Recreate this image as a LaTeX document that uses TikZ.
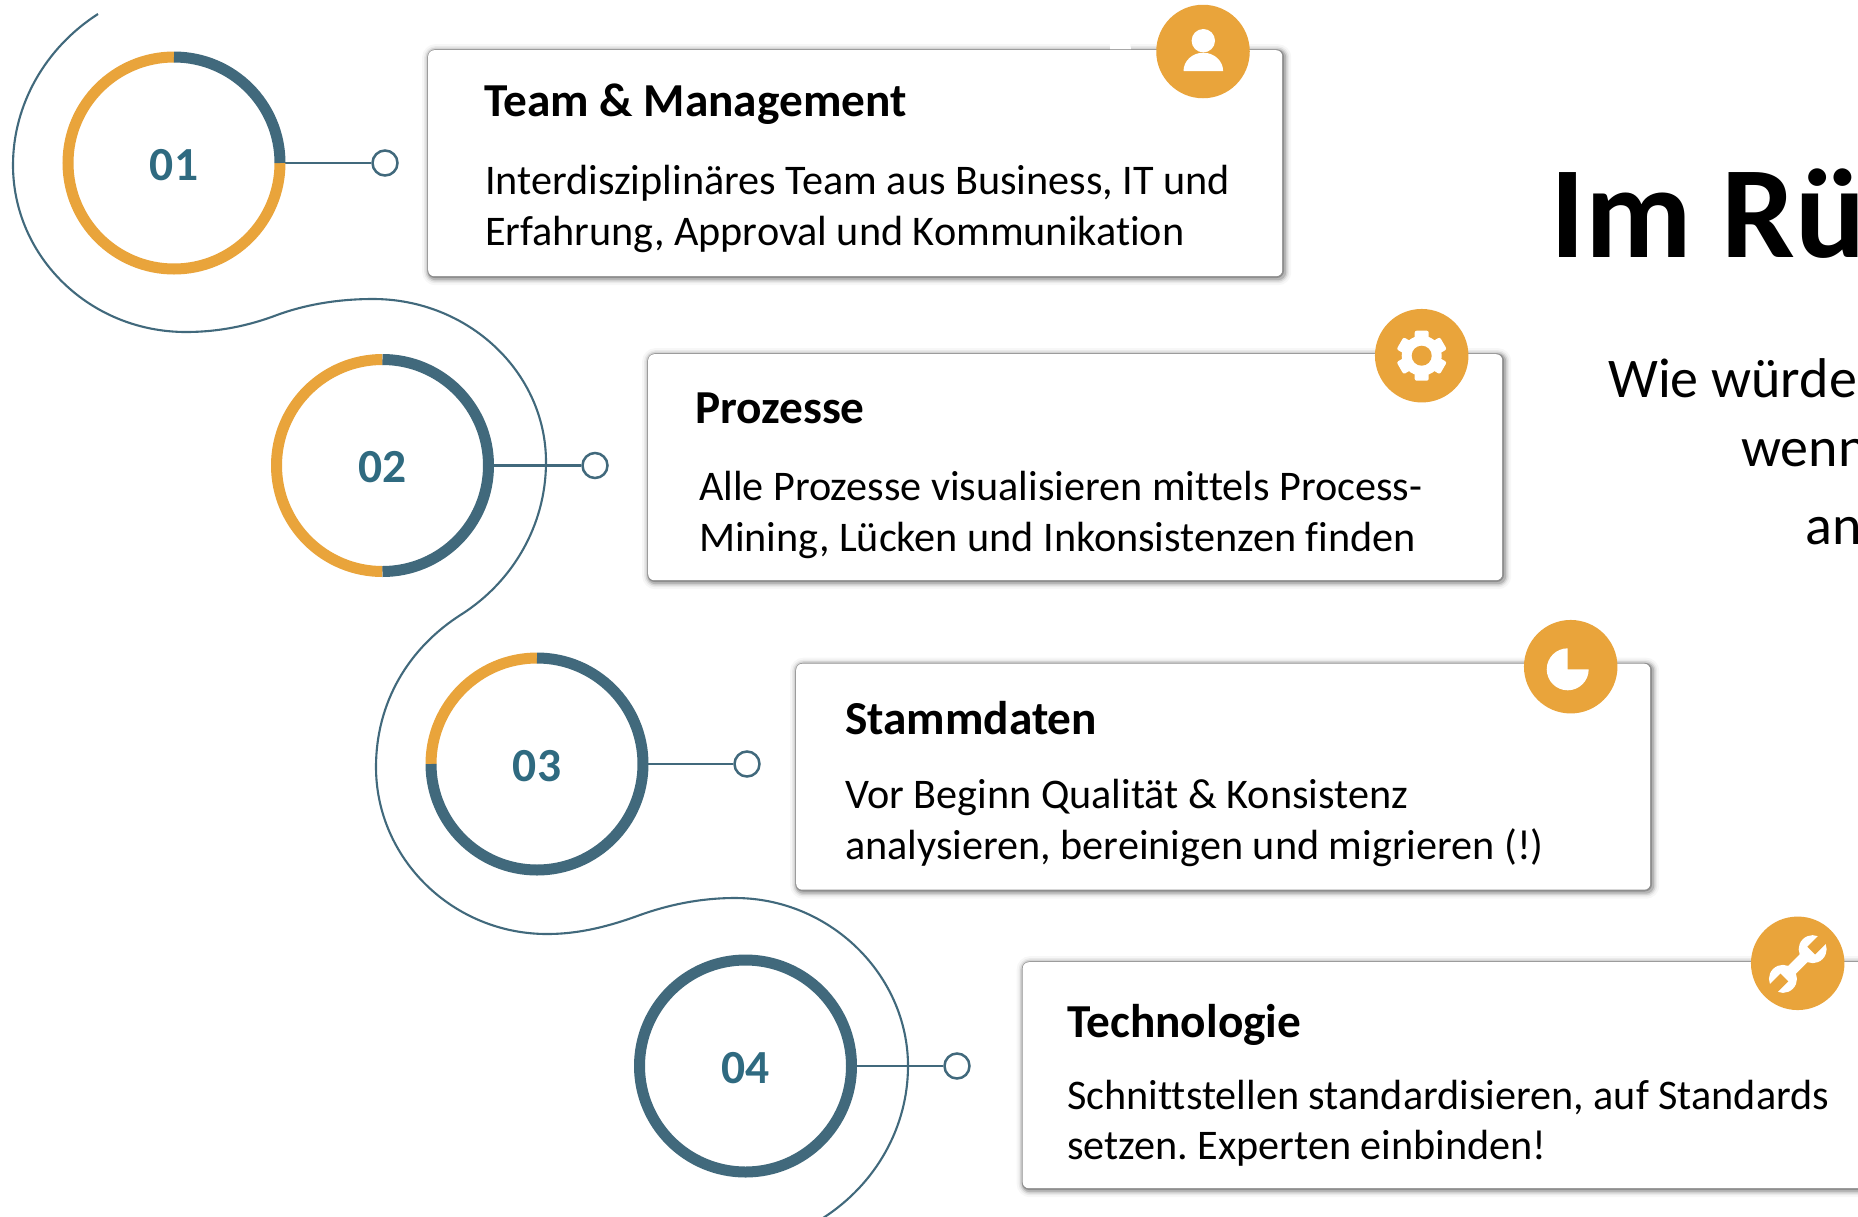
\documentclass[tikz,border=0pt]{standalone}
\usepackage{fontspec}
\setmainfont{Carlito}[Ligatures=NoCommon]
\definecolor{teal}{HTML}{41697C}
\definecolor{numteal}{HTML}{2F6A80}
\definecolor{amber}{HTML}{E9A43B}
\newcommand{\ringnum}[1]{\raisebox{-17pt}[0pt][0pt]{#1}}
\begin{document}
\frenchspacing
\begin{tikzpicture}[x=1pt,y=-1pt,
  wave/.style={draw=teal,line width=2.1pt},
  ringnode/.style={circle,minimum size=222pt,inner sep=0pt,text=numteal,font=\bfseries\fontsize{47.5}{50}\selectfont},
  seg/.style={line width=11pt},
  dotnode/.style={circle,draw=teal,line width=2.5pt,fill=white,minimum size=25pt,inner sep=0pt},
  link/.style={draw=teal,line width=2.8pt},
  card/.style={rectangle,rounded corners=6pt,fill=white,anchor=north west,minimum width=854pt,minimum height=226pt,inner sep=0pt,
    preaction={draw=black,draw opacity=.03,line width=15pt,transform canvas={shift={(1.5pt,-1.5pt)}}},
    preaction={draw=black,draw opacity=.05,line width=11pt,transform canvas={shift={(1.5pt,-1.5pt)}}},
    preaction={draw=black,draw opacity=.09,line width=8pt,transform canvas={shift={(1.5pt,-1.5pt)}}},
    preaction={draw=black,draw opacity=.14,line width=5pt,transform canvas={shift={(1.5pt,-1.5pt)}}},
    preaction={draw=black,draw opacity=.22,line width=2.6pt,transform canvas={shift={(.5pt,-.5pt)}}}},
  ttl/.style={anchor=base west,inner sep=0pt,font=\bfseries\fontsize{47.3}{50}\selectfont},
  bodytxt/.style={anchor=base west,inner sep=0pt,font=\fontsize{42.2}{50.5}\selectfont},
  badge/.style={circle,fill=amber,minimum size=93.5pt,inner sep=0pt},
  headtxt/.style={anchor=base west,inner sep=0pt,font=\bfseries\fontsize{131}{140}\selectfont},
  subtxt/.style={anchor=base west,inner sep=0pt,font=\fontsize{56}{60}\selectfont}
]
\useasboundingbox (0,0) rectangle (1858,1216);
\clip (0,0) rectangle (1858,1216);
\fill[white] (0,0) rectangle (1858,1216);
% wave
\path[wave] (98,14) .. controls (45,48) and (13,105) .. (13,165)
  .. controls (13,257) and (90,332) .. (186,332)
  .. controls (218,332) and (248,326) .. (277,315)
  .. controls (307,304) and (340,299) .. (373,299)
  .. controls (468,299) and (546,372) .. (546,462)
  .. controls (546,526) and (512,582) .. (462,614)
  .. controls (408,648) and (376,703) .. (376,767)
  .. controls (376,859) and (453,934) .. (547,934)
  .. controls (580,934) and (610,926) .. (640,915)
  .. controls (668,905) and (700,898) .. (735,898)
  .. controls (830,898) and (908,975) .. (908,1066)
  .. controls (908,1127) and (876,1184) .. (823,1218);
% numbered rings
\node[ringnode] (n1) at (174,163) {\ringnum{01}};
\node[ringnode] (n2) at (382.5,465.5) {\ringnum{02}};
\node[ringnode] (n3) at (537,764) {\ringnum{03}};
\node[ringnode] (n4) at (745.5,1066) {\ringnum{04}};
\node[dotnode] (d1) at (385,163) {};
\node[dotnode] (d2) at (595,465.5) {};
\node[dotnode] (d3) at (747,764) {};
\node[dotnode] (d4) at (957,1066) {};
\draw[link] (n1) -- (d1);
\draw[link] (n2) -- (d2);
\draw[link] (n3) -- (d3);
\draw[link] (n4) -- (d4);
% y axis points down, so angles are mirrored: clockwise on the page = increasing angle
\draw[seg,amber] (n1.center) ++(0:106) arc[start angle=0,end angle=270,radius=106];
\draw[seg,teal] (n1.center) ++(-90:106) arc[start angle=-90,end angle=0,radius=106];
\draw[seg,amber] (n2.center) ++(90:106) arc[start angle=90,end angle=270,radius=106];
\draw[seg,teal] (n2.center) ++(-90:106) arc[start angle=-90,end angle=90,radius=106];
\draw[seg,amber] (n3.center) ++(180:106) arc[start angle=180,end angle=270,radius=106];
\draw[seg,teal] (n3.center) ++(-90:106) arc[start angle=-90,end angle=180,radius=106];
\draw[seg,teal] (n4.center) circle[radius=106];
% cards
\node[card] (c1) at (428,50) {};
\node[card] (c2) at (648,354) {};
\node[card] (c3) at (796,663.5) {};
\node[card] (c4) at (1022.5,962) {};
\fill[white] (1110,49) -- (1110,37) -- (1129,37) -- (1131,49) -- cycle;
% card text
\node[ttl] (t1) at (484,116) {Team \& Management};
\node[bodytxt] (b1a) at (484.8,194.5) {Interdisziplinäres Team aus Business, IT und};
\node[bodytxt] (b1b) at (484.8,245.5) {Erfahrung, Approval und Kommunikation};
\node[ttl] (t2) at (695,423) {Prozesse};
\node[bodytxt] (b2a) at (698.8,500.5) {Alle Prozesse visualisieren mittels Process-};
\node[bodytxt] (b2b) at (698.8,551.5) {Mining, Lücken und Inkonsistenzen finden};
\node[ttl] (t3) at (845,734) {Stammdaten};
\node[bodytxt] (b3a) at (845,808) {Vor Beginn Qualität \& Konsistenz};
\node[bodytxt] (b3b) at (845,859) {analysieren, bereinigen und migrieren (!)};
\node[ttl] (t4) at (1067,1037) {Technologie};
\node[bodytxt] (b4a) at (1067,1109) {Schnittstellen standardisieren, auf Standards};
\node[bodytxt] (b4b) at (1067,1159) {setzen. Experten einbinden!};
% badges
\node[badge] (i1) at (1203,51.5) {};
\node[badge] (i2) at (1421.7,355.7) {};
\node[badge] (i3) at (1570.7,666.7) {};
\node[badge] (i4) at (1797.7,963.3) {};
% person
\fill[white] (1203.3,40.7) circle[radius=11.7];
\fill[white] (1183.5,71) arc[start angle=180,end angle=360,x radius=19.8,y radius=18.3] -- cycle;
% gear
\begin{scope}[shift={(i2.center)}]
  \fill[white] (0,0) circle[radius=20];
  \foreach \a in {30,90,...,330}
    \fill[white,rotate=\a,rounded corners=2pt] (14,-7) rectangle (25,7);
  \fill[amber] (0,0) circle[radius=10];
\end{scope}
% pie
\fill[white] (1567.7,669.3) -- (1567.7,648.3) arc[start angle=-90,end angle=-360,radius=21] -- cycle;
% wrench
\begin{scope}[shift={(1797.8,964)},rotate=45]
  \fill[white] (-22,-5.5) rectangle (22,5.5);
  \fill[white] (21,0) circle[radius=14];
  \fill[white] (-21,0) circle[radius=14];
  \fill[amber] (19,-5.5) rectangle (37,5.5);
  \fill[amber] (-19,-5.5) rectangle (-37,5.5);
\end{scope}
% right text
\node[headtxt] (h1) at (1550,257) {Im Rü};
\node[subtxt] (s1) at (1608,397) {Wie würde};
\node[subtxt] (s2) at (1741,466) {wenn};
\node[subtxt] (s3) at (1805,544) {an};
\end{tikzpicture}
\end{document}
